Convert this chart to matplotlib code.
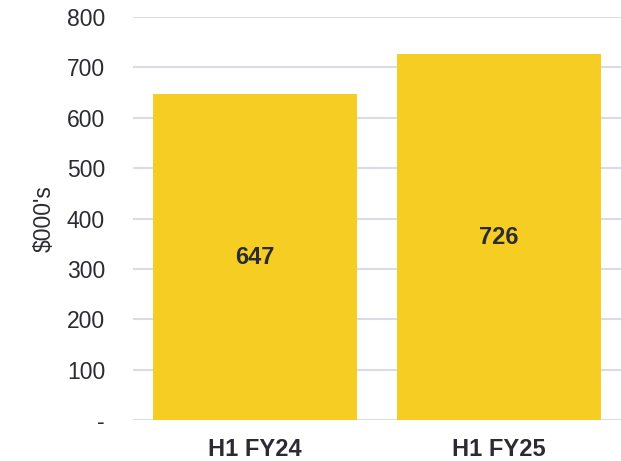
import matplotlib

matplotlib.use("Agg")
import matplotlib.pyplot as plt
from matplotlib.ticker import FuncFormatter

categories = ["H1 FY24", "H1 FY25"]
values = [647, 726]
y_ticks = [0, 100, 200, 300, 400, 500, 600, 700, 800]

plt.rcParams["font.family"] = ["Liberation Sans", "DejaVu Sans"]
text_color = "#2b2b33"
bar_color = "#F5CD23"

fig = plt.figure(figsize=(6.21, 4.61), dpi=100)
ax = fig.add_axes([0.214, 0.089, 0.786, 0.874])

x = range(len(categories))
bars = ax.bar(x, values, width=0.835, color=bar_color, zorder=3)
for rect, v in zip(bars, values):
    ax.text(rect.get_x() + rect.get_width() / 2, v / 2, f"{v:,}",
            ha="center", va="center", fontsize=17, fontweight="bold",
            color=text_color, zorder=4)

ax.set_xlim(-0.5, 1.5)
ax.set_ylim(0, 800)
ax.set_yticks(y_ticks)
ax.yaxis.set_major_formatter(FuncFormatter(lambda v, _: "-" if v == 0 else f"{v:.0f}"))
ax.set_xticks(list(x))
ax.set_xticklabels(categories, fontweight="bold")
ax.tick_params(axis="y", length=0, pad=20, labelsize=16.5, labelcolor=text_color)
ax.tick_params(axis="x", length=0, pad=13, labelsize=17, labelcolor=text_color)
ax.grid(axis="y", color="#d9dce3", linewidth=1.5, zorder=0)
for s in ax.spines.values():
    s.set_visible(False)
ax.set_ylabel("$000's", fontsize=16.5, color=text_color, labelpad=8)

fig.savefig("out.png", dpi=100)
